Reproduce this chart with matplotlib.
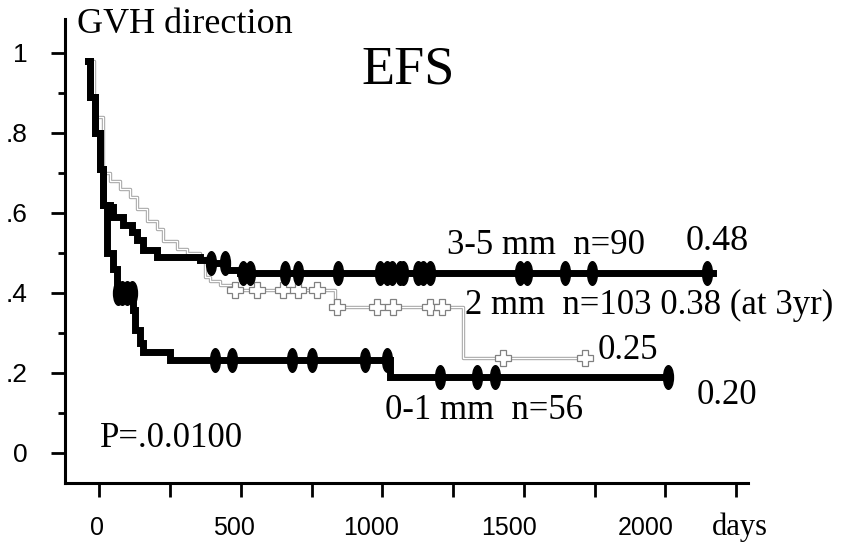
import numpy as np
import matplotlib.pyplot as plt
from matplotlib.ticker import FixedLocator, FixedFormatter, NullFormatter
from matplotlib.markers import MarkerStyle
from matplotlib.transforms import Affine2D

# 3-5 mm group (thick black)
t_35 = [-40, -33, -15, 2, 13, 38, 48, 84, 116, 133, 154, 204, 356, 391, 451, 497, 2168]
s_35 = [0.98, 0.89, 0.80, 0.71, 0.62, 0.614, 0.589, 0.569, 0.552, 0.532, 0.507, 0.489, 0.482, 0.474, 0.457, 0.449, 0.449]
c_35 = [394, 444, 509, 532, 656, 703, 845, 992, 1016, 1033, 1063, 1074, 1127, 1145, 1168, 1486, 1510, 1646, 1741, 2147]

# 2 mm group (thin grey)
t_2 = [-40, -19, 13, 38, 73, 108, 133, 169, 204, 225, 274, 310, 356, 374, 391, 427, 473, 832, 1286, 1734]
s_2 = [0.98, 0.84, 0.70, 0.68, 0.66, 0.64, 0.61, 0.58, 0.56, 0.53, 0.51, 0.50, 0.487, 0.44, 0.43, 0.42, 0.406, 0.364, 0.237, 0.237]
c_2 = [479, 557, 649, 702, 769, 840, 981, 1038, 1168, 1211, 1426, 1716]

# 0-1 mm group (thick black)
t_01 = [-40, -33, -15, 2, 13, 27, 48, 62, 119, 126, 144, 155, 250, 1027, 2010]
s_01 = [0.98, 0.89, 0.80, 0.71, 0.62, 0.50, 0.46, 0.40, 0.357, 0.307, 0.274, 0.252, 0.232, 0.19, 0.19]
c_01 = [66, 82, 97, 114, 410, 468, 680, 752, 940, 1016, 1204, 1334, 1398, 2010]

x_ticks = [0, 500, 1000, 1500, 2000]
x_labels = ['0', '500', '1000', '1500', '2000']
x_minor = [250, 750, 1250, 1750, 2250]
y_ticks = [0, 0.2, 0.4, 0.6, 0.8, 1.0]
y_labels = ['0', '.2', '.4', '.6', '.8', '1']
y_minor = [0.1, 0.3, 0.5, 0.7, 0.9]


def at(t, s, x):
    # value of a step curve at the censor times
    idx = np.searchsorted(t, x, side='right') - 1
    return np.array(s)[idx]


serif = 'Liberation Serif'
sans = 'Liberation Sans'

# tall rounded blob for the censor marks
blob = MarkerStyle('o', transform=Affine2D().scale(0.42, 1.0))

fig = plt.figure(figsize=(8.41, 5.57), dpi=100)
ax = fig.add_axes([0.0773, 0.1329, 0.8121, 0.833])

# 2 mm: hollow grey line
ax.step(t_2, s_2, where='post', color='#a0a0a0', lw=2.4, zorder=2)
ax.step(t_2, s_2, where='post', color='white', lw=1.0, zorder=2.1)
ax.plot(c_2, at(t_2, s_2, c_2), ls='none', marker='P', ms=11,
        mfc='white', mec='#808080', mew=0.9, zorder=2.2)

# thick black curves
for t, s, c in [(t_35, s_35, c_35), (t_01, s_01, c_01)]:
    ax.step(t, s, where='post', color='black', lw=5.0, zorder=3,
            solid_joinstyle='miter')
    ax.plot(c, at(t, s, c), ls='none', marker=blob, ms=17,
            color='black', zorder=3.1)

ax.set_xlim(-121, 2292)
ax.set_ylim(-0.076, 1.084)

for side in ['top', 'right']:
    ax.spines[side].set_visible(False)
for side in ['left', 'bottom']:
    ax.spines[side].set_linewidth(2.2)

ax.xaxis.set_major_locator(FixedLocator(x_ticks))
ax.xaxis.set_major_formatter(NullFormatter())
ax.xaxis.set_minor_locator(FixedLocator(x_minor))
ax.yaxis.set_major_locator(FixedLocator(y_ticks))
ax.yaxis.set_major_formatter(FixedFormatter(y_labels))
ax.yaxis.set_minor_locator(FixedLocator(y_minor))
ax.tick_params(axis='x', which='both', length=10, width=2, direction='out')
ax.tick_params(axis='y', which='major', length=10, width=2, direction='out', pad=17)
ax.tick_params(axis='y', which='minor', length=5, width=2, direction='out')
for lab in ax.get_yticklabels():
    lab.set_fontfamily(sans)
    lab.set_fontsize(19)

# in the original print the day labels sit slightly left of their ticks
for v, lab in zip(x_ticks, x_labels):
    ax.text(v * 0.97 - 8, -0.158, lab, family=sans, fontsize=18,
            ha='center', va='top')

# annotations
ax.text(-79, 1.049, 'GVH direction', family=serif, fontsize=26, va='baseline')
ax.text(928, 0.922, 'EFS', family=serif, fontsize=39, va='baseline')
ax.text(1229, 0.497, '3-5 mm  n=90', family=serif, fontsize=25, va='baseline')
ax.text(2070, 0.507, '0.48', family=serif, fontsize=26, va='baseline')
ax.text(1292, 0.347, '2 mm  n=103 0.38 (at 3yr)', family=serif, fontsize=25, va='baseline')
ax.text(1762, 0.234, '0.25', family=serif, fontsize=25, va='baseline')
ax.text(1010, 0.084, '0-1 mm  n=56', family=serif, fontsize=25, va='baseline')
ax.text(2112, 0.122, '0.20', family=serif, fontsize=25, va='baseline')
ax.text(2.5, 0.014, 'P=.0.0100', family=serif, fontsize=25, va='baseline')
ax.text(2165, -0.206, 'days', family=serif, fontsize=22, va='baseline')

fig.savefig('out.png', dpi=100)
